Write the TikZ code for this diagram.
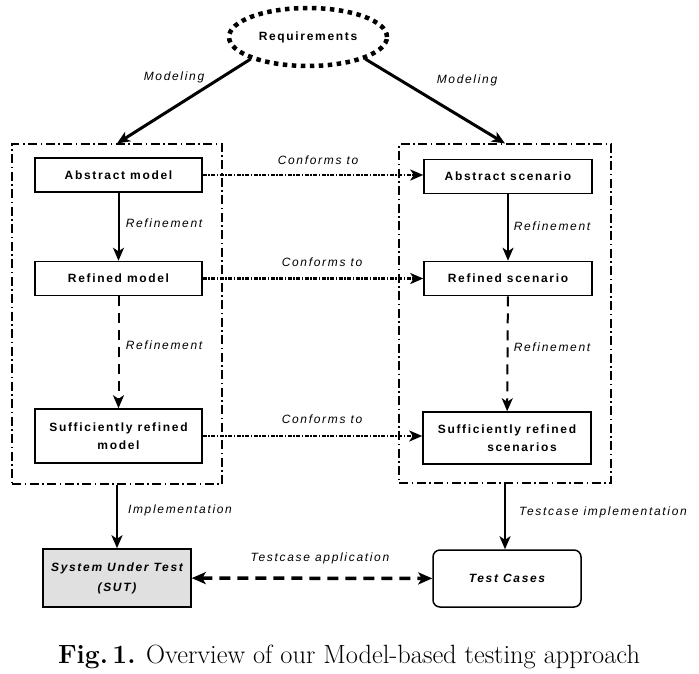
\documentclass[tikz,border=0pt]{standalone}
\usepackage{fontspec}
\usepackage{tikz}
\usetikzlibrary{arrows.meta, shapes.geometric, positioning}
\newfontfamily\diagfont[LetterSpace=14]{Liberation Sans}

\tikzset{
  stepbox/.style={draw, line width=1.5pt, minimum width=167pt, minimum height=34pt,
    inner sep=2pt, font=\diagfont\fontsize{12}{18}\selectfont\bfseries, align=center},
  grpbox/.style={draw, line width=1.1pt, dash pattern=on 9pt off 3.5pt on 1.5pt off 3.5pt},
  lbl/.style={font=\diagfont\fontsize{12}{14}\selectfont\itshape, inner sep=0pt},
  tip/.style={-{Stealth[length=13pt, width=11pt, inset=3.5pt]}},
  conf/.style={tip, line width=2.2pt, dash pattern=on 4pt off 1.5pt on 1.5pt off 1.5pt},
  refn/.style={tip, line width=2pt},
  refdash/.style={tip, line width=2pt, dash pattern=on 10pt off 7pt}
}

\begin{document}
\begin{tikzpicture}[x=1pt, y=-1pt]
        \useasboundingbox (0,0) rectangle (699,673);

        % requirements
        \node[ellipse, draw, line width=4.5pt, dash pattern=on 4.5pt off 4.5pt,
              minimum width=158pt, minimum height=58pt,
              font=\diagfont\fontsize{12}{14}\selectfont\bfseries] (req) at (308,37) {Requirements};

        % the two groups
        \node[grpbox, minimum width=210pt, minimum height=340pt] (leftgrp) at (117,314) {};
        \node[grpbox, minimum width=212pt, minimum height=339pt] (rightgrp) at (505,313.5) {};

        % model side
        \node[stepbox] (absmod) at (118.5,175) {Abstract model};
        \node[stepbox] (refmod) at (118.5,278.5) {Refined model};
        \node[stepbox, minimum height=54pt] (sufmod) at (118.5,436) {Sufficiently refined\\model};

        % scenario side
        \node[stepbox, minimum width=168pt] (abssc) at (508,176.5) {Abstract scenario};
        \node[stepbox, minimum width=168pt] (refsc) at (508,278.5) {Refined scenario};
        \node[stepbox, minimum width=168pt, minimum height=52pt] (sufsc) at (507,438) {Sufficiently refined\\\hspace*{30pt}scenarios};

        % bottom
        \node[stepbox, fill=black!12, minimum width=148pt, minimum height=58pt,
              font=\diagfont\fontsize{12}{20}\selectfont\bfseries\itshape] (sut) at (117,578) {System Under Test\\(SUT)};
        \node[stepbox, rounded corners=7pt, minimum width=148pt, minimum height=57pt,
              font=\diagfont\fontsize{12}{14}\selectfont\bfseries\itshape] (tc) at (507,578.5) {Test Cases};

        % connectors
        \draw[tip, line width=3pt] (req.south west) -- (leftgrp.north);
        \draw[tip, line width=3pt] (req.south east) -- (rightgrp.north);

        \draw[refn] (absmod) -- (refmod);
        \draw[refdash] (refmod) -- (sufmod);
        \draw[refn] (abssc) -- (refsc);
        \draw[refdash] (refsc) -- (sufsc);

        \draw[conf] (absmod.east) -- (absmod.east -| abssc.west);
        \draw[conf] (refmod.east) -- (refsc.west);
        \draw[conf] (sufmod.east) -- (sufmod.east -| sufsc.west);

        \draw[refn, line width=2.5pt] (leftgrp.south) -- (sut);
        \draw[refn] (rightgrp.south) -- (rightgrp.south |- tc.north);
        \draw[{Stealth[length=14pt, width=12pt, inset=3.5pt]}-{Stealth[length=14pt, width=12pt, inset=3.5pt]},
              line width=3.5pt, dash pattern=on 11pt off 7pt] (sut) -- (tc);

        % labels
        \node[lbl] (mod1) at (174,77) {Modeling};
        \node[lbl] (mod2) at (467,80) {Modeling};
        \node[lbl] (conf1) at (318,160) {Conforms to};
        \node[lbl] (conf2) at (322,262) {Conforms to};
        \node[lbl] (conf3) at (322,419) {Conforms to};
        \node[lbl] (ref1) at (164,223) {Refinement};
        \node[lbl] (ref2) at (164,345) {Refinement};
        \node[lbl] (ref3) at (552,226) {Refinement};
        \node[lbl] (ref4) at (552,347) {Refinement};
        \node[lbl] (impl) at (180,510) {Implementation};
        \node[lbl] (tcimpl) at (603,512) {Testcase implementation};
        \node[lbl] (tcappl) at (320,558) {Testcase application};

        % caption
        \node[font=\fontsize{26.4}{30}\selectfont] (cap) at (349,657) {\textbf{Fig.\,1.} Overview of our Model-based testing approach};
\end{tikzpicture}
\end{document}
